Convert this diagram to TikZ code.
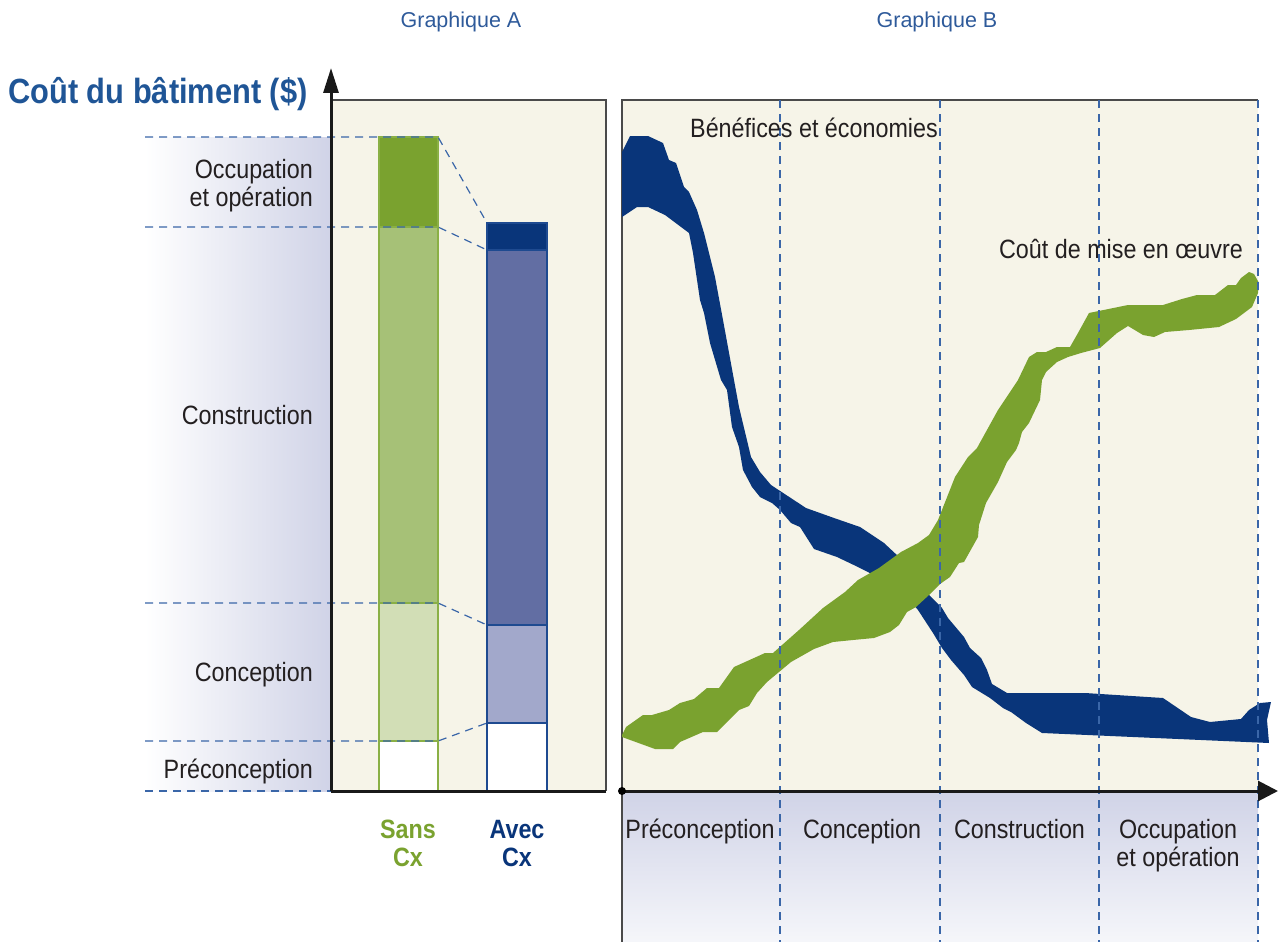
\documentclass[tikz,border=0pt]{standalone}
\usepackage{fontspec}
\setmainfont{Liberation Sans}
\newfontfamily\lab[FakeStretch=0.88]{Liberation Sans}
\usetikzlibrary{arrows.meta}
\definecolor{cream}{HTML}{F6F4E8}
\definecolor{lav}{HTML}{D0D3E7}
\definecolor{lavlight}{HTML}{F5F6FA}
\definecolor{dgreen}{HTML}{7AA22F}
\definecolor{mgreen}{HTML}{A6C177}
\definecolor{lgreen}{HTML}{D2DEB6}
\definecolor{bgreen}{HTML}{8AB045}
\definecolor{dblue}{HTML}{09357A}
\definecolor{mblue}{HTML}{626EA3}
\definecolor{lblue}{HTML}{A2A8CB}
\definecolor{bblue}{HTML}{1E4A90}
\definecolor{dashc}{HTML}{3A66A8}
\definecolor{titleblue}{HTML}{1F5596}
\definecolor{gtitle}{HTML}{2E5A9A}
\definecolor{txt}{HTML}{231F20}
\definecolor{frame}{HTML}{4A4A4A}
\tikzset{
  lbl/.style={font=\lab\fontsize{26.5}{28}\selectfont, text=txt, inner sep=0pt, align=center, anchor=base},
  lblr/.style={lbl, align=right, anchor=base east},
  bold/.style={font=\lab\bfseries\fontsize{26.5}{28}\selectfont, inner sep=0pt, align=center, anchor=base},
  dashln/.style={draw=dashc, line width=1.2pt, dash pattern=on 8pt off 6pt},
  axis/.style={draw=black!90, line width=3pt},
  framel/.style={draw=frame, line width=1.5pt},
}
\begin{document}
\begin{tikzpicture}[x=1pt,y=-1pt]
\useasboundingbox (0,0) rectangle (1278,942);
% ---------- Graphique A ----------
\shade[left color=white, right color=lav] (145,137) rectangle (331,791);
\fill[cream] (331,100) rectangle (606,791);
\draw[framel] (331,100) -- (606,100) -- (606,791);
% Sans Cx bar
\fill[dgreen] (379,137) rectangle (438,227);
\fill[mgreen] (379,227) rectangle (438,603);
\fill[lgreen] (379,603) rectangle (438,741);
\fill[white] (379,741) rectangle (438,791);
\draw[bgreen, line width=1.5pt] (379,137) rectangle (438,791);
\draw[bgreen, line width=1.2pt] (379,227) -- (438,227) (379,603) -- (438,603) (379,741) -- (438,741);
% Avec Cx bar
\fill[dblue] (487,223) rectangle (547,250);
\fill[mblue] (487,250) rectangle (547,625);
\fill[lblue] (487,625) rectangle (547,723);
\fill[white] (487,723) rectangle (547,791);
\draw[bblue, line width=1.5pt] (487,223) rectangle (547,791);
\draw[bblue, line width=1.2pt] (487,250) -- (547,250) (487,625) -- (547,625) (487,723) -- (547,723);
% named coordinates
\coordinate (s1) at (438,137); \coordinate (a1) at (487,223);
\coordinate (s2) at (438,227); \coordinate (a2) at (487,250);
\coordinate (s3) at (438,603); \coordinate (a3) at (487,625);
\coordinate (s4) at (438,741); \coordinate (a4) at (487,723);
\coordinate (l1) at (145,137); \coordinate (l2) at (145,227);
\coordinate (l3) at (145,603); \coordinate (l4) at (145,741);
\coordinate (l5) at (145,791); \coordinate (r5) at (331,791);
\draw[dashln] (l1) -- (s1) -- (a1);
\draw[dashln] (l2) -- (s2) -- (a2);
\draw[dashln] (l3) -- (s3) -- (a3);
\draw[dashln] (l4) -- (s4) -- (a4);
\draw[dashln] (l5) -- (r5);
% axes A
\coordinate (oA) at (331,791);
\coordinate (yA) at (331,68);
\coordinate (xA) at (606,791);
\draw[axis] (xA) -- (oA);
\draw[axis, -{Triangle[length=25pt,width=15pt]}] (oA) -- (yA);
% labels A
\node[lblr] (lo) at (313,206) {Occupation\\et opération};
\node[lblr] (lc) at (313,424) {Construction};
\node[lblr] (lp) at (313,681) {Conception};
\node[lblr] (lpp) at (313,778) {Préconception};
\node[bold, text=dgreen] (sans) at (408,866) {Sans\\Cx};
\node[bold, text=dblue] (avec) at (517,866) {Avec\\Cx};
\node[anchor=west, inner sep=0pt, text=titleblue, font=\lab\bfseries\fontsize{35}{40}\selectfont] (title) at (8,94) {Coût du bâtiment (\$)};
\node[inner sep=0pt, text=gtitle, font=\fontsize{21.5}{24}\selectfont] (ga) at (461,22) {Graphique A};
\node[inner sep=0pt, text=gtitle, font=\fontsize{21.5}{24}\selectfont] (gb) at (937,22) {Graphique B};
% ---------- Graphique B ----------
\fill[cream] (622,100) rectangle (1258,791);
\shade[top color=lav, bottom color=lavlight] (622,791) rectangle (1258,942);
\draw[framel] (1258,100) -- (622,100) -- (622,942);
% blue band
\fill[dblue] (622,152) -- (630,136) -- (648,136) -- (663,143) -- (669,160) -- (676,163) -- (684,187) -- (689,192) -- (697,210) -- (704,233) -- (715,277) -- (723,320) -- (734,380) -- (739,407) -- (751,457) -- (760,472) -- (771,485) -- (806,508) -- (834,518) -- (860,527) -- (884,543) -- (899,557) -- (929,595) -- (942,608) -- (948,618) -- (964,637) -- (970,648) -- (981,658) -- (987,670) -- (992,684) -- (1007,693) -- (1085,693) -- (1163,698) -- (1191,717) -- (1210,722) -- (1241,719) -- (1249,710) -- (1260,703) -- (1271,702) -- (1267,720) -- (1269,743) -- (1042,733) -- (1026,723) -- (1011,712) -- (1003,708) -- (990,698) -- (972,687) -- (964,675) -- (951,660) -- (942,648) -- (933,633) -- (918,610) -- (907,597) -- (868,572) -- (858,567) -- (837,557) -- (814,549) -- (800,527) -- (791,523) -- (780,510) -- (772,503) -- (760,497) -- (752,487) -- (743,470) -- (739,447) -- (732,427) -- (727,390) -- (721,380) -- (710,343) -- (704,313) -- (700,300) -- (693,253) -- (689,233) -- (665,215) -- (648,207) -- (637,207) -- (622,217) -- cycle;
% green band
\fill[dgreen] (622,735) -- (626,727) -- (643,715) -- (652,715) -- (669,710) -- (680,703) -- (694,699) -- (707,688) -- (719,688) -- (734,667) -- (754,658) -- (765,653) -- (773,653) -- (799,630) -- (823,608) -- (845,592) -- (858,580) -- (879,568) -- (901,552) -- (918,543) -- (929,535) -- (938,520) -- (955,477) -- (968,457) -- (977,448) -- (998,410) -- (1018,380) -- (1029,357) -- (1037,352) -- (1046,352) -- (1057,347) -- (1070,347) -- (1078,333) -- (1089,313) -- (1128,305) -- (1163,305) -- (1182,299) -- (1197,295) -- (1215,295) -- (1228,285) -- (1236,285) -- (1241,278) -- (1249,272) -- (1254,274) -- (1259,283) -- (1258,293) -- (1252,307) -- (1236,319) -- (1219,327) -- (1189,330) -- (1165,332) -- (1154,337) -- (1143,335) -- (1128,326) -- (1117,333) -- (1100,348) -- (1081,353) -- (1068,357) -- (1057,362) -- (1046,372) -- (1042,380) -- (1040,400) -- (1029,423) -- (1022,432) -- (1019,443) -- (1016,450) -- (1007,462) -- (998,482) -- (986,503) -- (979,525) -- (978,537) -- (964,562) -- (959,563) -- (950,577) -- (940,584) -- (929,595) -- (916,607) -- (907,612) -- (899,625) -- (890,632) -- (874,638) -- (853,640) -- (833,642) -- (814,649) -- (791,662) -- (767,682) -- (757,693) -- (749,706) -- (739,710) -- (717,732) -- (703,732) -- (680,742) -- (673,749) -- (655,749) -- (622,737) -- cycle;
% dashed phase lines
\foreach \x/\n in {780/v1,940/v2,1099/v3,1258/v4}{
  \coordinate (\n t) at (\x,100);
  \coordinate (\n b) at (\x,942);
  \draw[dashln] (\n t) -- (\n b);
}
% axis B
\coordinate (oB) at (622,791);
\coordinate (xB) at (1278,791);
\draw[axis, -{Triangle[length=20pt,width=20pt]}] (oB) -- (xB);
\fill[black] (oB) circle (4);
% labels B
\node[lbl] (bp) at (700,838) {Préconception};
\node[lbl] (bc) at (862,838) {Conception};
\node[lbl] (bk) at (1019.5,838) {Construction};
\node[lbl] (bo) at (1178,866) {Occupation\\et opération};
\node[lbl, anchor=base west] (ben) at (690,137) {Bénéfices et économies};
\node[lbl, anchor=base east] (cout) at (1243,258) {Coût de mise en œuvre};
\end{tikzpicture}
\end{document}
